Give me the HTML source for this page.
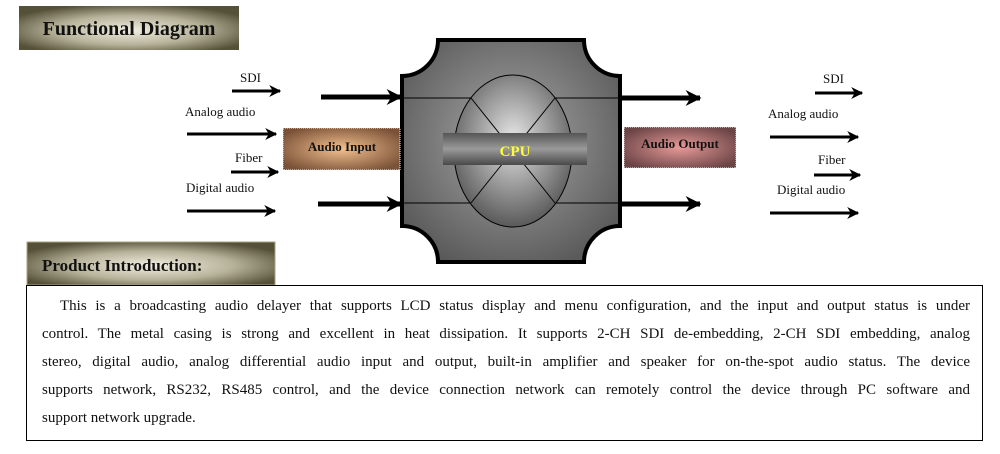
<!DOCTYPE html>
<html><head><meta charset="utf-8"><style>
html,body{margin:0;padding:0;background:#fff;width:1000px;height:454px;overflow:hidden;font-family:"Liberation Serif",serif;}
.para{position:absolute;left:26px;top:285px;width:957px;height:156px;border:1.5px solid #000;box-sizing:border-box;}
.ln{position:absolute;left:15px;width:928px;font-size:15px;color:#111;text-align:justify;text-align-last:justify;white-space:nowrap;}
.ln span{white-space:normal}
</style></head><body>
<svg width="1000" height="454" style="position:absolute;left:0;top:0" xmlns="http://www.w3.org/2000/svg">
<defs>
<radialGradient id="tg" cx="50%" cy="55%" r="60%"><stop offset="0" stop-color="#f2efe2"/><stop offset="0.55" stop-color="#b7b29a"/><stop offset="1" stop-color="#555038"/></radialGradient>
<radialGradient id="ai" cx="50%" cy="50%" r="60%"><stop offset="0" stop-color="#f3c08e"/><stop offset="1" stop-color="#7a5238"/></radialGradient>
<radialGradient id="ao" cx="50%" cy="50%" r="60%"><stop offset="0" stop-color="#e79a98"/><stop offset="1" stop-color="#6b4446"/></radialGradient>
<radialGradient id="bx" cx="50%" cy="45%" r="65%"><stop offset="0" stop-color="#a8a8a8"/><stop offset="1" stop-color="#555"/></radialGradient>
<radialGradient id="el" cx="50%" cy="42%" r="60%"><stop offset="0" stop-color="#e6e6e6"/><stop offset="1" stop-color="#555"/></radialGradient>
<linearGradient id="bar" x1="0" y1="0" x2="0" y2="1"><stop offset="0" stop-color="#555"/><stop offset="0.5" stop-color="#9a9a9a"/><stop offset="1" stop-color="#4a4a4a"/></linearGradient>
<marker id="ah" viewBox="0 0 10 10" refX="9" refY="5" markerWidth="4" markerHeight="4" orient="auto"><path d="M0,0 L10,5 L0,10 L3,5 Z" fill="#000"/></marker>
<marker id="ahb" viewBox="0 0 10 10" refX="9" refY="5" markerWidth="3.2" markerHeight="3.2" orient="auto"><path d="M0,0 L10,5 L0,10 L3,5 Z" fill="#000"/></marker>
</defs>
<rect x="19" y="6" width="220" height="44" fill="url(#tg)"/>
<text x="129" y="35" text-anchor="middle" font-family="Liberation Serif" font-weight="bold" font-size="20" fill="#111">Functional Diagram</text>
<rect x="27" y="242" width="248" height="43" fill="url(#tg)" stroke="#a9a37f"/>
<text x="42" y="271" font-family="Liberation Serif" font-weight="bold" font-size="17" fill="#111">Product Introduction:</text>

<path d="M438,40 H584 A36,36 0 0 0 620,76 V226 A36,36 0 0 0 584,262 H438 A36,36 0 0 0 402,226 V76 A36,36 0 0 0 438,40 Z" fill="url(#bx)" stroke="#000" stroke-width="4"/>
<line x1="404" y1="98" x2="618" y2="98" stroke="#000" stroke-width="1"/>
<line x1="404" y1="203" x2="618" y2="203" stroke="#000" stroke-width="1"/>
<ellipse cx="513" cy="151" rx="59" ry="76" fill="url(#el)" stroke="#000" stroke-width="1"/>
<line x1="471" y1="98" x2="555" y2="203" stroke="#000"/>
<line x1="555" y1="98" x2="471" y2="203" stroke="#000"/>
<rect x="443" y="133" width="144" height="32" fill="url(#bar)"/>
<text x="515" y="156" text-anchor="middle" font-family="Liberation Serif" font-weight="bold" font-size="15" fill="#ffff33">CPU</text>

<rect x="283" y="128" width="117" height="42" fill="url(#ai)" stroke="#fff" stroke-dasharray="1,1"/>
<text x="342" y="151" text-anchor="middle" font-family="Liberation Serif" font-weight="bold" font-size="13" fill="#111">Audio Input</text>
<rect x="624" y="127" width="112" height="41" fill="url(#ao)" stroke="#fff" stroke-dasharray="1,1"/>
<text x="680" y="148" text-anchor="middle" font-family="Liberation Serif" font-weight="bold" font-size="13" fill="#111">Audio Output</text>

<g stroke="#000" stroke-width="3" fill="none" marker-end="url(#ah)">
<line x1="232" y1="91" x2="280" y2="91"/>
<line x1="187" y1="134" x2="276" y2="134"/>
<line x1="231" y1="172" x2="278" y2="172"/>
<line x1="187" y1="211" x2="275" y2="211"/>
<line x1="815" y1="93" x2="862" y2="93"/>
<line x1="770" y1="137" x2="858" y2="137"/>
<line x1="814" y1="175" x2="860" y2="175"/>
<line x1="770" y1="213" x2="858" y2="213"/>
</g>
<g stroke="#000" stroke-width="5" fill="none" marker-end="url(#ahb)">
<line x1="321" y1="97" x2="401" y2="97"/>
<line x1="318" y1="204" x2="401" y2="204"/>
<line x1="622" y1="98" x2="700" y2="98"/>
<line x1="622" y1="204" x2="700" y2="204"/>
</g>
<g font-family="Liberation Serif" font-size="13" fill="#111">
<text x="240" y="82">SDI</text>
<text x="185" y="116">Analog audio</text>
<text x="235" y="162">Fiber</text>
<text x="186" y="192">Digital audio</text>
<text x="823" y="83">SDI</text>
<text x="768" y="118">Analog audio</text>
<text x="818" y="164">Fiber</text>
<text x="777" y="194">Digital audio</text>
</g>
</svg>
<div class="para">
<div class="ln" style="top:12px;left:33px;width:910px">This is a broadcasting audio delayer that supports LCD status display and menu configuration, and the input and output status is under</div>
<div class="ln" style="top:40px">control. The metal casing is strong and excellent in heat dissipation. It supports 2-CH SDI de-embedding, 2-CH SDI embedding, analog</div>
<div class="ln" style="top:68px">stereo, digital audio, analog differential audio input and output, built-in amplifier and speaker for on-the-spot audio status. The device</div>
<div class="ln" style="top:96px">supports network, RS232, RS485 control, and the device connection network can remotely control the device through PC software and</div>
<div class="ln" style="top:124px;text-align:left;text-align-last:left">support network upgrade.</div>
</div>
</body></html>
